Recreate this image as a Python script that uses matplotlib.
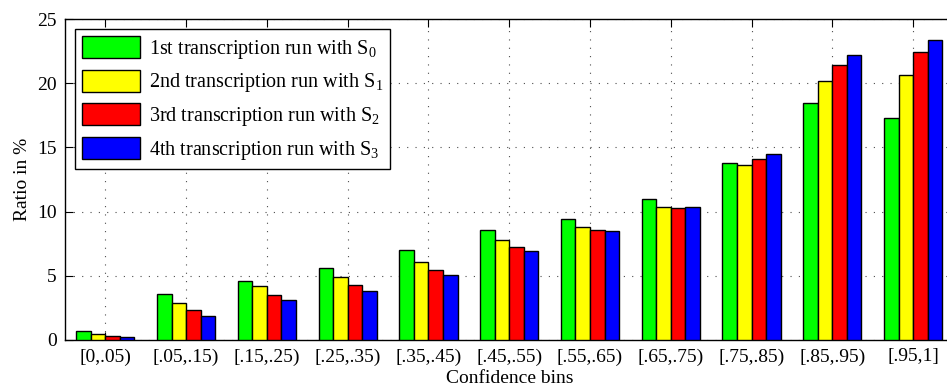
import numpy as np
import matplotlib
matplotlib.use('Agg')
import matplotlib.pyplot as plt

plt.rcParams['font.family'] = ['Liberation Serif', 'DejaVu Serif']
plt.rcParams['mathtext.fontset'] = 'custom'
plt.rcParams['mathtext.rm'] = 'Liberation Serif'

bins = ['[0,.05)', '[.05,.15)', '[.15,.25)', '[.25,.35)', '[.35,.45)', '[.45,.55)',
        '[.55,.65)', '[.65,.75)', '[.75,.85)', '[.85,.95)', '[.95,1]']
run1 = [0.69, 3.60, 4.62, 5.63, 7.00, 8.54, 9.42, 10.96, 13.77, 18.47, 17.30]
run2 = [0.45, 2.85, 4.20, 4.90, 6.10, 7.81, 8.80, 10.34, 13.66, 20.19, 20.63]
run3 = [0.33, 2.30, 3.53, 4.27, 5.48, 7.27, 8.54, 10.31, 14.08, 21.41, 22.40]
run4 = [0.22, 1.89, 3.14, 3.84, 5.09, 6.93, 8.46, 10.39, 14.47, 22.22, 23.38]
labels = [r'1st transcription run with S$_{\mathrm{0}}$',
          r'2nd transcription run with S$_{\mathrm{1}}$',
          r'3rd transcription run with S$_{\mathrm{2}}$',
          r'4th transcription run with S$_{\mathrm{3}}$']
colors = ['#00ff00', '#ffff00', '#ff0000', '#0000ff']

fig = plt.figure(figsize=(9.47, 3.88), dpi=100)
ax = fig.add_axes([65/947, 1-340/388, 888.5/947, 321/388])

x = np.arange(1, len(bins)+1)
w = 0.18
for i, (vals, lab, c) in enumerate(zip([run1, run2, run3, run4], labels, colors)):
    ax.bar(x + (i-1.5)*w, vals, w, color=c, edgecolor='black', linewidth=1, label=lab, zorder=3)

ax.set_xlim(0.5, 11.5)
ax.set_ylim(0, 25)
ax.set_xticks(x)
ax.set_xticklabels(bins)
ax.set_yticks([0, 5, 10, 15, 20, 25])
ax.tick_params(direction='in', top=True, right=True, length=6, labelsize=14, pad=6)
ax.grid(True, linestyle=(0, (1, 6.5)), color='0.3', linewidth=0.8, zorder=0)
ax.set_axisbelow(True)
for s in ax.spines.values():
    s.set_linewidth(1.0)

ax.set_xlabel('Confidence bins', fontsize=14, labelpad=3)
ax.set_ylabel('Ratio in %', fontsize=14, labelpad=4)

leg = ax.legend(loc='upper left', bbox_to_anchor=(10/888.5, 1-10/321), borderaxespad=0,
                fontsize=14.5, handlelength=2.9, handleheight=1.3, labelspacing=0.44,
                handletextpad=0.4, borderpad=0.35, fancybox=False, edgecolor='black',
                framealpha=1)
leg.get_frame().set_linewidth(1.0)

fig.savefig('out.png', dpi=100)
